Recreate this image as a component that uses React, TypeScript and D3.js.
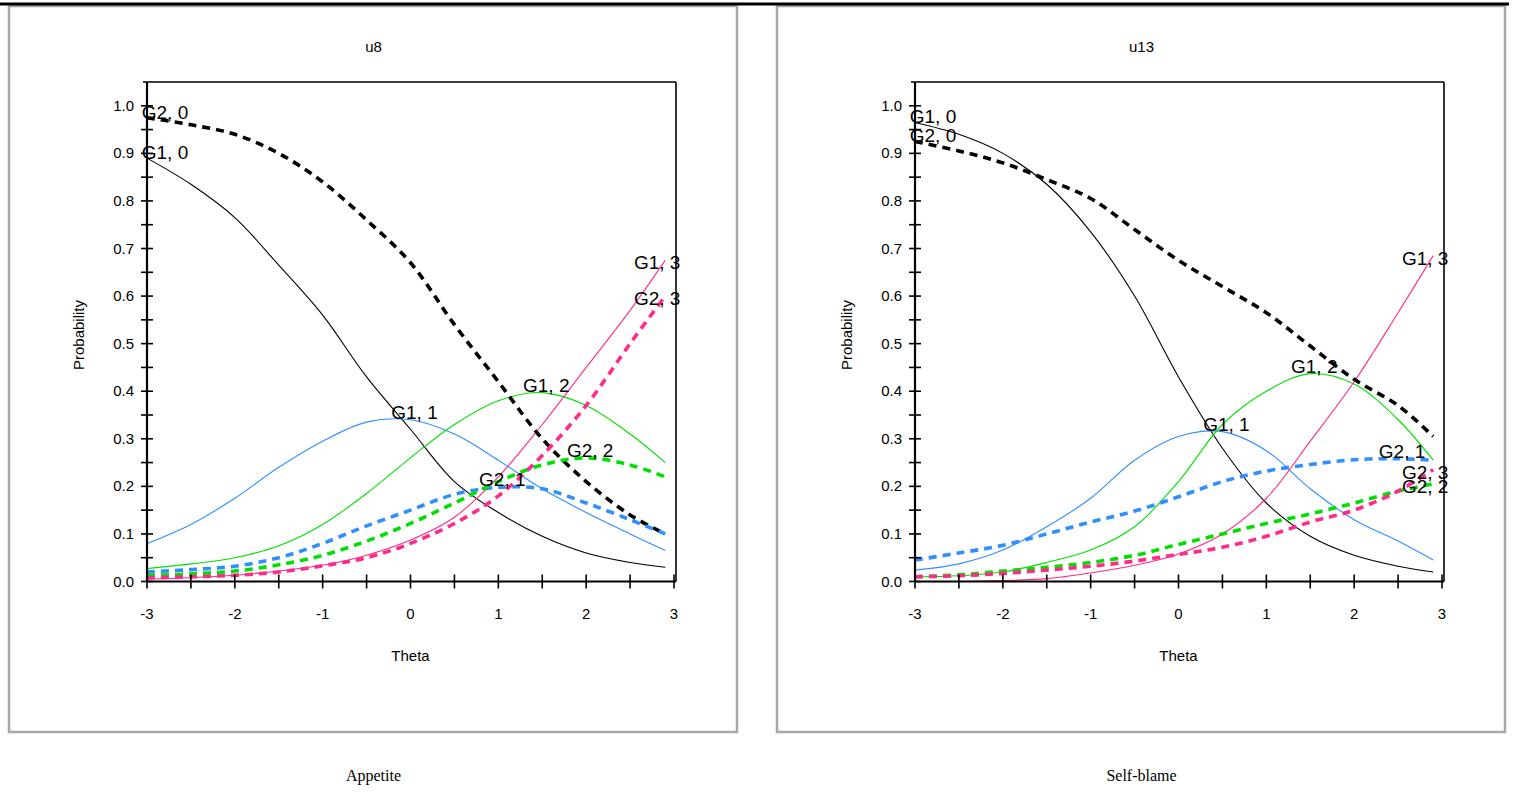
import React from "react";
import * as d3 from "d3";

// ---------- data ----------
const theta = [-3, -2.5, -2, -1.5, -1, -0.5, 0, 0.5, 1, 1.5, 2, 2.5, 2.9];
const xTicks = [-3, -2, -1, 0, 1, 2, 3];
const yTickLabels = [0, 0.1, 0.2, 0.3, 0.4, 0.5, 0.6, 0.7, 0.8, 0.9, 1.0];

const seriesNames = ["G1, 0", "G1, 1", "G1, 2", "G1, 3", "G2, 0", "G2, 1", "G2, 2", "G2, 3"];

// Appetite (u8)
const u8_G1_0 = [0.89, 0.835, 0.765, 0.665, 0.56, 0.43, 0.32, 0.21, 0.145, 0.095, 0.06, 0.04, 0.03];
const u8_G1_1 = [0.08, 0.12, 0.175, 0.24, 0.295, 0.335, 0.34, 0.31, 0.255, 0.195, 0.145, 0.1, 0.065];
const u8_G1_2 = [0.027, 0.037, 0.05, 0.075, 0.12, 0.185, 0.26, 0.33, 0.38, 0.397, 0.37, 0.31, 0.25];
const u8_G1_3 = [0.005, 0.008, 0.013, 0.022, 0.034, 0.055, 0.087, 0.135, 0.22, 0.33, 0.45, 0.57, 0.675];
const u8_G2_0 = [0.975, 0.96, 0.94, 0.9, 0.84, 0.76, 0.67, 0.54, 0.42, 0.3, 0.21, 0.14, 0.1];
const u8_G2_1 = [0.02, 0.025, 0.032, 0.05, 0.08, 0.117, 0.15, 0.183, 0.198, 0.195, 0.165, 0.13, 0.1];
const u8_G2_2 = [0.013, 0.016, 0.022, 0.035, 0.055, 0.085, 0.122, 0.165, 0.21, 0.245, 0.26, 0.245, 0.22];
const u8_G2_3 = [0.008, 0.01, 0.013, 0.02, 0.033, 0.05, 0.08, 0.122, 0.18, 0.265, 0.37, 0.5, 0.6];

// Self-blame (u13)
const u13_G1_0 = [0.965, 0.94, 0.9, 0.835, 0.735, 0.6, 0.43, 0.28, 0.165, 0.095, 0.055, 0.032, 0.02];
const u13_G1_1 = [0.024, 0.037, 0.066, 0.115, 0.175, 0.255, 0.305, 0.315, 0.275, 0.195, 0.13, 0.085, 0.045];
const u13_G1_2 = [0.01, 0.012, 0.02, 0.04, 0.066, 0.115, 0.21, 0.33, 0.4, 0.437, 0.415, 0.34, 0.255];
const u13_G1_3 = [0.0, 0.0, 0.002, 0.006, 0.018, 0.034, 0.058, 0.1, 0.175, 0.295, 0.42, 0.565, 0.685];
const u13_G2_0 = [0.925, 0.905, 0.88, 0.845, 0.805, 0.74, 0.675, 0.62, 0.565, 0.495, 0.425, 0.37, 0.305];
const u13_G2_1 = [0.045, 0.06, 0.076, 0.1, 0.125, 0.148, 0.178, 0.21, 0.232, 0.246, 0.256, 0.258, 0.255];
const u13_G2_2 = [0.01, 0.014, 0.022, 0.03, 0.04, 0.055, 0.078, 0.1, 0.122, 0.142, 0.165, 0.19, 0.205];
const u13_G2_3 = [0.01, 0.012, 0.017, 0.024, 0.032, 0.043, 0.057, 0.072, 0.095, 0.125, 0.15, 0.19, 0.235];

const panels = [
  { title: "u8", caption: "Appetite", series: [u8_G1_0, u8_G1_1, u8_G1_2, u8_G1_3, u8_G2_0, u8_G2_1, u8_G2_2, u8_G2_3] },
  { title: "u13", caption: "Self-blame", series: [u13_G1_0, u13_G1_1, u13_G1_2, u13_G1_3, u13_G2_0, u13_G2_1, u13_G2_2, u13_G2_3] },
];

// ---------- styles ----------
const colors = ["#000000", "#2f8fff", "#00e000", "#ff2a8a", "#000000", "#2f8fff", "#00e000", "#ff2a8a"];
const SANS = "'Liberation Sans', Arial, sans-serif";
const SERIF = "'Liberation Serif', 'Times New Roman', serif";

const PANEL_DX = 768;
const X0 = 147, X1 = 674, Y0 = 581.5, Y1 = 82;

function Panel({ p, dx }) {
  const x = d3.scaleLinear().domain([-3, 3]).range([X0 + dx, X1 + dx]);
  const y = d3.scaleLinear().domain([0, 1.05]).range([Y0, Y1]);
  const line = d3
    .line<number>()
    .x((_, i) => x(theta[i]))
    .y((d) => y(d))
    .curve(d3.curveCatmullRom.alpha(0.5));

  const yMinor = d3.range(0, 21).map((i) => i * 0.05);
  const xMinor = d3.range(0, 13).map((i) => -3 + i * 0.5);
  const cx = (9 + 738) / 2 + dx;
  const frameR = x(3) + 2;

  const labels = p.series.map((s, k) => {
    const idx = d3.maxIndex(s);
    const px = x(theta[idx]);
    const py = y(s[idx]);
    if (idx === 0) return { tx: px + 18, ty: py + 1 };
    if (idx === s.length - 1) return { tx: px - 8, ty: py + 9 };
    return { tx: px + 4, ty: py - 1 };
  });

  return (
    <g>
      <rect x={9 + dx} y={6} width={728} height={726} fill="#fff" stroke="#a8a8a8" strokeWidth={2.5} />
      <text x={cx} y={52} textAnchor="middle" fontFamily={SANS} fontSize={15}>{p.title}</text>

      {/* series */}
      {p.series.map((s, k) => {
        const dashed = k >= 4;
        return (
          <path
            key={k}
            d={line(s) || ""}
            fill="none"
            stroke={colors[k]}
            strokeWidth={dashed ? 3.6 : 1.1}
            strokeDasharray={dashed ? "8,6" : undefined}
          />
        );
      })}

      {/* frame */}
      <line x1={X0 - 4 + dx} x2={frameR} y1={Y1} y2={Y1} stroke="#000" strokeWidth={1.6} />
      <line x1={frameR} x2={frameR} y1={Y1} y2={Y0} stroke="#000" strokeWidth={1.6} />
      <line x1={X0 + dx} x2={X0 + dx} y1={Y1} y2={Y0} stroke="#000" strokeWidth={2.2} />
      <line x1={X0 + dx} x2={frameR} y1={Y0} y2={Y0} stroke="#000" strokeWidth={2.2} />

      {yMinor.map((v, i) => (
        <line key={"yt" + i} x1={X0 + dx - 6} x2={X0 + dx + 6} y1={y(v)} y2={y(v)} stroke="#000" strokeWidth={1.6} />
      ))}
      {xMinor.map((v, i) => (
        <line key={"xt" + i} x1={x(v)} x2={x(v)} y1={Y0 - 7} y2={Y0 + 7} stroke="#000" strokeWidth={1.6} />
      ))}
      {yTickLabels.map((v, i) => (
        <text key={"yl" + i} x={X0 + dx - 13} y={y(v) + 5} textAnchor="end" fontFamily={SANS} fontSize={15}>
          {d3.format(".1f")(v)}
        </text>
      ))}
      {xTicks.map((v, i) => (
        <text key={"xl" + i} x={x(v)} y={619} textAnchor="middle" fontFamily={SANS} fontSize={15}>
          {String(v)}
        </text>
      ))}
      <text x={x(0)} y={661} textAnchor="middle" fontFamily={SANS} fontSize={15}>Theta</text>
      <text
        transform={`translate(${84 + dx},${335}) rotate(-90)`}
        textAnchor="middle"
        fontFamily={SANS}
        fontSize={15}
      >
        Probability
      </text>

      {/* curve labels */}
      {labels.map((l, k) => (
        <text key={"cl" + k} x={l.tx} y={l.ty} textAnchor="middle" fontFamily={SANS} fontSize={19}>
          {seriesNames[k]}
        </text>
      ))}

      <text x={cx} y={781} textAnchor="middle" fontFamily={SERIF} fontSize={16}>{p.caption}</text>
    </g>
  );
}

export default function App() {
  return (
    <svg width={1517} height={795} style={{ position: "absolute", left: 0, top: 0, background: "#fff" }}>
      <rect x={0} y={0} width={1517} height={795} fill="#fff" />
      {panels.map((p, i) => (
        <Panel key={i} p={p} dx={i * PANEL_DX} />
      ))}
      <line x1={0} x2={1509} y1={4} y2={4} stroke="#000" strokeWidth={3} />
    </svg>
  );
}
